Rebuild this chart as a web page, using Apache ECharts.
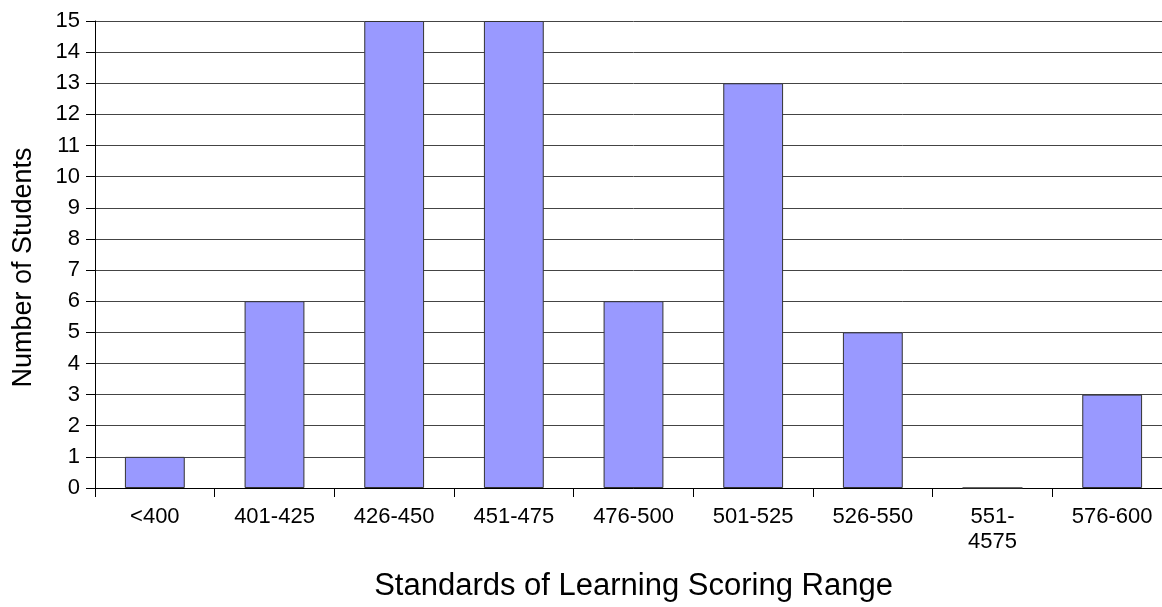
<!DOCTYPE html>
<html>
<head>
<meta charset="utf-8">
<script src="https://cdn.jsdelivr.net/npm/echarts@6/dist/echarts.min.js"></script>
<style>
html,body{margin:0;padding:0;background:#fff;overflow:hidden;}
#chart{width:1172px;height:607px;}
</style>
</head>
<body>
<div id="chart"></div>
<script>
const categories = ['<400', '401-425', '426-450', '451-475', '476-500', '501-525', '526-550', '551-\n4575', '576-600'];
const students = [1, 6, 15, 15, 6, 13, 5, 0, 3];
const yTicks = { min: 0, max: 15, interval: 1 };
const xTitle = 'Standards of Learning Scoring Range';
const yTitle = 'Number of Students';

const FONT = "'Liberation Sans', Arial, sans-serif";
const chart = echarts.init(document.getElementById('chart'), null, { renderer: 'canvas' });
chart.setOption({
  animation: false,
  backgroundColor: '#ffffff',
  grid: { left: 95, top: 21, right: 0, bottom: 117, containLabel: false },
  xAxis: {
    type: 'category',
    data: categories,
    boundaryGap: true,
    axisLine: { show: true, lineStyle: { color: '#000', width: 1 } },
    axisTick: { show: true, alignWithLabel: false, length: 9, lineStyle: { color: '#000' } },
    axisLabel: { color: '#000', fontFamily: FONT, fontSize: 22, margin: 16, lineHeight: 25, interval: 0 },
    splitLine: { show: false },
    name: xTitle,
    nameLocation: 'middle',
    nameGap: 83,
    nameTextStyle: { color: '#000', fontFamily: FONT, fontSize: 31 }
  },
  yAxis: {
    type: 'value',
    min: yTicks.min,
    max: yTicks.max,
    interval: yTicks.interval,
    axisLine: { show: true, lineStyle: { color: '#000', width: 1 } },
    axisTick: { show: true, length: 9, lineStyle: { color: '#000' } },
    axisLabel: { color: '#000', fontFamily: FONT, fontSize: 22, margin: 15 },
    splitLine: { show: true, lineStyle: { color: '#444', width: 1 } },
    name: yTitle,
    nameLocation: 'middle',
    nameGap: 58,
    nameRotate: 90,
    nameTextStyle: { color: '#000', fontFamily: FONT, fontSize: 27, padding: [0, 26, 0, 0] }
  },
  series: [{
    type: 'bar',
    data: students,
    barWidth: '50%',
    itemStyle: { color: '#9999ff', borderColor: '#333333', borderWidth: 1 }
  }]
});
</script>
</body>
</html>
